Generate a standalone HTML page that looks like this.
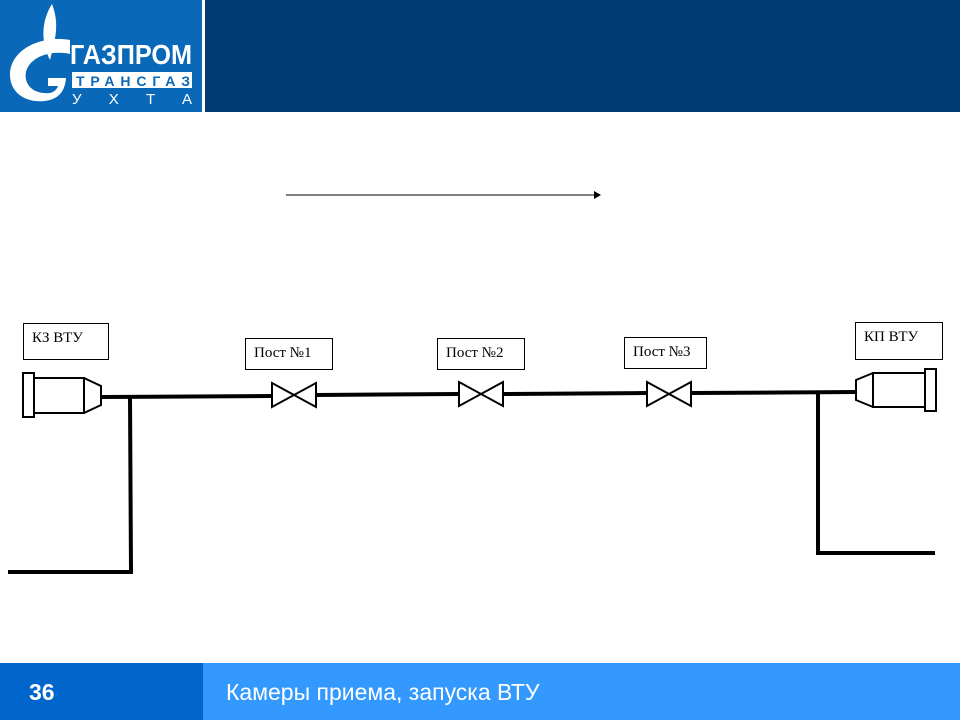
<!DOCTYPE html>
<html><head><meta charset="utf-8"><style>
body{margin:0;width:960px;height:720px;position:relative;background:#fff;overflow:hidden;font-family:"Liberation Sans",sans-serif}
.a{position:absolute}
.box{position:absolute;border:1px solid #000;background:#fff;font-family:"Liberation Serif",serif;font-size:15px;box-sizing:border-box;padding:6px 0 0 8px}
</style></head><body>
<div class="a" style="left:0;top:0;width:202px;height:112px;background:#0a68b8"></div>
<div class="a" style="left:202px;top:0;width:3px;height:112px;background:#fff"></div>
<div class="a" style="left:205px;top:0;width:755px;height:112px;background:#003a70"></div>
<svg class="a" style="left:0;top:0" width="202" height="112">
<path d="M52 4 C42 20 40 40 50 60 C55 40 60 25 52 4Z" fill="#fff"/>
<path d="M70 40 C40 35 10 50 10 75 C10 95 30 105 50 100 C60 97 65 90 66 78 L48 78 L48 86 L58 86 C56 92 50 94 44 93 C30 92 24 82 26 72 C30 56 52 50 70 54Z" fill="#fff"/>
<text x="70" y="64" fill="#fff" font-family="Liberation Sans" font-weight="bold" font-size="28" textLength="122" lengthAdjust="spacingAndGlyphs">ГАЗПРОМ</text>
<rect x="72" y="72" width="120" height="16" fill="#fff"/>
<text x="76" y="86" fill="#0a68b8" font-weight="bold" font-size="14" textLength="114" lengthAdjust="spacing">ТРАНСГАЗ</text>
<text x="72" y="104" fill="#fff" font-size="15" textLength="120" lengthAdjust="spacing">УХТА</text>
</svg>
<svg class="a" style="left:0;top:0" width="960" height="720">
<line x1="286" y1="195" x2="594" y2="195" stroke="#000" stroke-width="1"/>
<path d="M594 191 L601 195 L594 199Z" fill="#000"/>
<g fill="none" stroke="#000" stroke-width="2">
<rect x="23" y="373" width="11" height="44" fill="#fff"/>
<rect x="34" y="378" width="50" height="35"/>
<path d="M84 378 L101 386 L101 405 L84 413"/>
<rect x="925" y="369" width="11" height="42" fill="#fff"/>
<rect x="873" y="373" width="52" height="34"/>
<path d="M873 373 L856 380 L856 400 L873 407"/>
</g>
<g stroke="#000" stroke-width="4" fill="none">
<polyline points="101,397 272,396"/>
<polyline points="316,395 458,394"/>
<polyline points="503,394 646,393"/>
<polyline points="691,393 857,392"/>
<polyline points="130,397 131,572 8,572"/>
<polyline points="818,392 818,553 935,553"/>
</g>
<g fill="#fff" stroke="#000" stroke-width="2">
<path d="M272 383 L316 407 L316 383 L272 407Z"/>
<path d="M459 382 L503 406 L503 382 L459 406Z"/>
<path d="M647 382 L691 406 L691 382 L647 406Z"/>
</g>
</svg>
<div class="box" style="left:23px;top:323px;width:86px;height:37px">КЗ ВТУ</div>
<div class="box" style="left:855px;top:322px;width:88px;height:38px">КП ВТУ</div>
<div class="box" style="left:245px;top:338px;width:88px;height:32px">Пост №1</div>
<div class="box" style="left:437px;top:338px;width:88px;height:32px">Пост №2</div>
<div class="box" style="left:624px;top:337px;width:83px;height:32px">Пост №3</div>
<div class="a" style="left:0;top:663px;width:203px;height:57px;background:#0066cc"></div>
<div class="a" style="left:203px;top:663px;width:757px;height:57px;background:#3399ff"></div>
<div class="a" style="left:29px;top:679px;color:#fff;font-weight:bold;font-size:23px">36</div>
<div class="a" style="left:226px;top:679px;color:#fff;font-size:23px">Камеры приема, запуска ВТУ</div>
</body></html>
